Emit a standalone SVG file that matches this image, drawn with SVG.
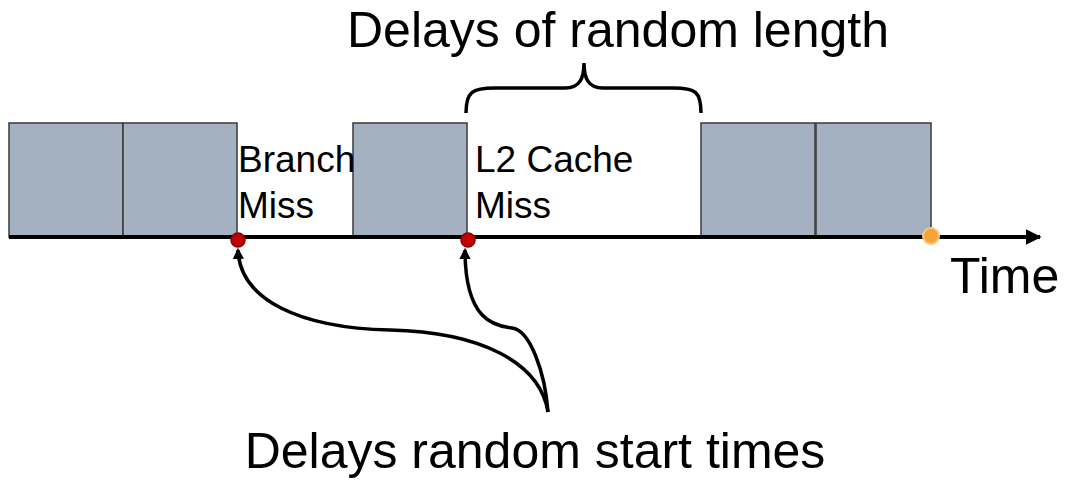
<svg xmlns="http://www.w3.org/2000/svg" width="1065" height="480" viewBox="0 0 1065 480">
<style>
.blk{fill:#a3b1c0;stroke:#3a3a3a;stroke-width:1.5}
.t{font-family:"Liberation Sans",Arial,sans-serif;fill:#000}
.big{font-size:50px}
.sm{font-size:37px}
.con{fill:none;stroke:#000;stroke-width:3.5}
</style>
<defs>
<marker id="ah" viewBox="0 0 10 10" refX="8" refY="5" markerWidth="3.2" markerHeight="3.2" orient="auto" markerUnits="strokeWidth">
<path d="M0,0 L10,5 L0,10 z" fill="#000"/>
</marker>
<marker id="ax" viewBox="0 0 10 10" refX="9" refY="5" markerWidth="4" markerHeight="4" orient="auto" markerUnits="strokeWidth">
<path d="M0,0 L10,5 L0,10 z" fill="#000"/>
</marker>
</defs>
<g id="block1"><rect class="blk" x="9" y="123" width="114" height="114"/></g>
<g id="block2"><rect class="blk" x="123" y="123" width="114" height="114"/></g>
<g id="block3"><rect class="blk" x="353" y="123" width="114" height="114"/></g>
<g id="block4"><rect class="blk" x="701" y="123" width="114" height="114"/></g>
<g id="block5"><rect class="blk" x="816" y="123" width="115" height="114"/></g>
<g id="connectors">
<line x1="9" y1="237" x2="1040" y2="237" stroke="#000" stroke-width="4" marker-end="url(#ax)"/>
<path class="con" d="M466,113 C466,92 472,88 495,88 L565,88 C580,88 584,78 584,63 C584,78 588,88 603,88 L673,88 C696,88 701,92 701,113"/>
<path class="con" d="M548,412 C540,362 480,332 390,330 C300,328 240,300 238,250" marker-end="url(#ah)"/>
<path class="con" d="M548,412 C545,372 530,330 512,328 C494,326 465,320 465,250" marker-end="url(#ah)"/>
</g>
<g id="dot1"><circle cx="238" cy="240" r="7" fill="#c00000" stroke="#8b0000" stroke-width="1.5"/></g>
<g id="dot2"><circle cx="468" cy="240" r="7" fill="#c00000" stroke="#8b0000" stroke-width="1.5"/></g>
<g id="dot3"><circle cx="931" cy="236" r="8" fill="#f6a43a" stroke="#fbc77b" stroke-width="2"/></g>
<g id="labels">
<text class="t big" x="618" y="47" text-anchor="middle">Delays of random length</text>
<text class="t sm" x="238" y="172">Branch</text>
<text class="t sm" x="238" y="218">Miss</text>
<text class="t sm" x="475" y="172">L2 Cache</text>
<text class="t sm" x="475" y="218">Miss</text>
<text class="t big" x="950" y="293">Time</text>
<text class="t big" x="535" y="468" text-anchor="middle">Delays random start times</text>
</g>
</svg>
